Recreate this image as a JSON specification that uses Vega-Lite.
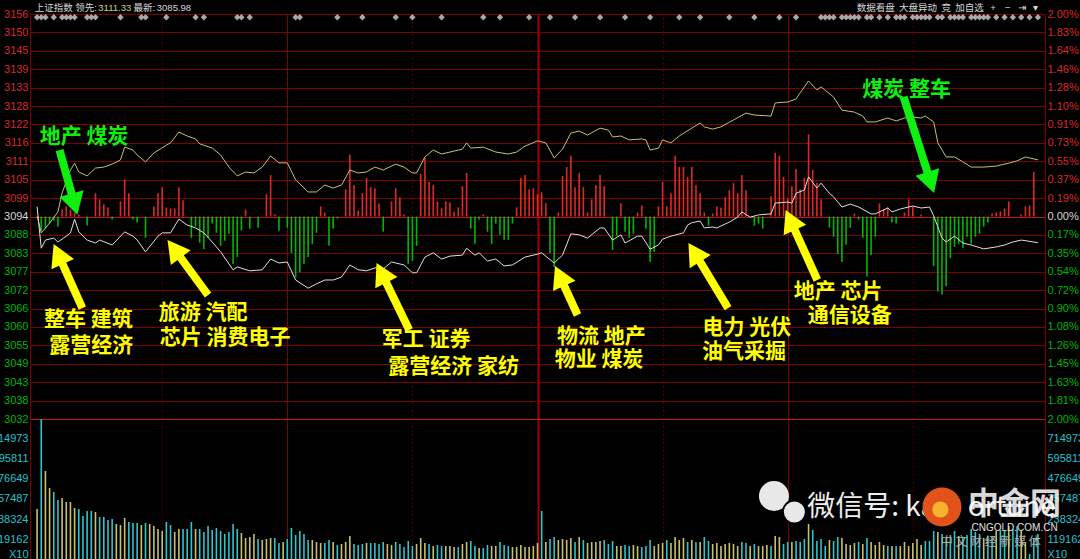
{
"$schema": "https://vega.github.io/schema/vega-lite/v6.json",
"width": 1015, "height": 545,
"autosize": {"type": "none"},
"padding": {"left": 30, "top": 14, "right": 35, "bottom": 0},
"background": "#000000",
"config": {
  "view": {"stroke": "#800000", "strokeWidth": 1},
  "axis": {"labelFont": "Liberation Sans, Noto Sans CJK SC", "labelFontSize": 11, "ticks": false, "domain": false, "title": null, "labelFlush": false, "labelOverlap": false}
},
"datasets": {
"sse": [{"t":0,"p":3097.0},{"t":1,"p":3084.3},{"t":2,"p":3086.8},{"t":4,"p":3087.4},{"t":5,"p":3086.2},{"t":7,"p":3088.0},{"t":8,"p":3089.0},{"t":9,"p":3093.2},{"t":10,"p":3089.3},{"t":12,"p":3086.8},{"t":14,"p":3085.9},{"t":15,"p":3086.8},{"t":18,"p":3085.3},{"t":21,"p":3089.3},{"t":23,"p":3088.0},{"t":24,"p":3086.8},{"t":26,"p":3083.2},{"t":29,"p":3088.0},{"t":30,"p":3089.0},{"t":32,"p":3089.0},{"t":34,"p":3093.2},{"t":36,"p":3091.4},{"t":38,"p":3090.5},{"t":40,"p":3089.0},{"t":42,"p":3086.2},{"t":44,"p":3083.2},{"t":47,"p":3077.7},{"t":48,"p":3078.6},{"t":51,"p":3077.4},{"t":54,"p":3077.7},{"t":56,"p":3081.0},{"t":58,"p":3079.8},{"t":60,"p":3080.1},{"t":62,"p":3074.6},{"t":65,"p":3072.1},{"t":67,"p":3073.4},{"t":69,"p":3074.6},{"t":71,"p":3074.6},{"t":73,"p":3075.5},{"t":75,"p":3079.2},{"t":77,"p":3077.7},{"t":79,"p":3077.4},{"t":81,"p":3078.3},{"t":83,"p":3078.0},{"t":85,"p":3080.1},{"t":88,"p":3079.2},{"t":90,"p":3076.8},{"t":91,"p":3076.8},{"t":93,"p":3081.6},{"t":95,"p":3082.9},{"t":97,"p":3081.0},{"t":99,"p":3081.9},{"t":102,"p":3082.2},{"t":103,"p":3084.3},{"t":105,"p":3082.2},{"t":106,"p":3082.9},{"t":108,"p":3080.4},{"t":110,"p":3081.0},{"t":112,"p":3078.9},{"t":114,"p":3079.2},{"t":117,"p":3081.6},{"t":120,"p":3082.5},{"t":121,"p":3082.9},{"t":124,"p":3079.8},{"t":126,"p":3082.2},{"t":128,"p":3088.7},{"t":130,"p":3088.4},{"t":132,"p":3087.4},{"t":135,"p":3090.5},{"t":136,"p":3090.5},{"t":138,"p":3086.8},{"t":140,"p":3088.4},{"t":141,"p":3085.9},{"t":144,"p":3088.0},{"t":145,"p":3088.0},{"t":147,"p":3084.0},{"t":149,"p":3085.3},{"t":150,"p":3087.1},{"t":152,"p":3088.0},{"t":155,"p":3089.0},{"t":156,"p":3091.4},{"t":157,"p":3092.1},{"t":159,"p":3092.6},{"t":160,"p":3090.5},{"t":162,"p":3090.8},{"t":163,"p":3090.5},{"t":166,"p":3092.3},{"t":168,"p":3093.8},{"t":169,"p":3095.4},{"t":171,"p":3093.8},{"t":173,"p":3094.5},{"t":176,"p":3094.8},{"t":177,"p":3098.1},{"t":180,"p":3098.4},{"t":181,"p":3098.1},{"t":182,"p":3101.1},{"t":184,"p":3102.1},{"t":185,"p":3106.1},{"t":187,"p":3102.7},{"t":188,"p":3104.2},{"t":190,"p":3101.1},{"t":191,"p":3100.0},{"t":193,"p":3096.9},{"t":195,"p":3097.8},{"t":197,"p":3096.9},{"t":200,"p":3094.8},{"t":201,"p":3094.8},{"t":204,"p":3096.6},{"t":205,"p":3095.4},{"t":207,"p":3096.3},{"t":210,"p":3097.2},{"t":212,"p":3096.6},{"t":214,"p":3096.9},{"t":215,"p":3094.2},{"t":217,"p":3087.4},{"t":218,"p":3086.2},{"t":220,"p":3088.0},{"t":222,"p":3085.9},{"t":224,"p":3085.3},{"t":227,"p":3084.1},{"t":230,"p":3084.7},{"t":232,"p":3085.3},{"t":234,"p":3086.2},{"t":236,"p":3086.8},{"t":240,"p":3086.0}],
"lead": [{"t":0,"p":3094.2},{"t":1,"p":3089.0},{"t":3,"p":3092.0},{"t":5,"p":3095.4},{"t":6,"p":3101.2},{"t":8,"p":3108.2},{"t":9,"p":3110.3},{"t":10,"p":3107.6},{"t":12,"p":3106.4},{"t":14,"p":3108.8},{"t":16,"p":3109.1},{"t":18,"p":3110.0},{"t":20,"p":3111.3},{"t":21,"p":3115.2},{"t":23,"p":3114.3},{"t":24,"p":3112.8},{"t":26,"p":3110.7},{"t":28,"p":3113.4},{"t":31,"p":3115.8},{"t":32,"p":3116.5},{"t":34,"p":3119.8},{"t":36,"p":3118.6},{"t":38,"p":3117.7},{"t":39,"p":3116.2},{"t":42,"p":3114.9},{"t":44,"p":3112.8},{"t":46,"p":3109.1},{"t":48,"p":3106.4},{"t":50,"p":3107.6},{"t":52,"p":3107.3},{"t":54,"p":3109.1},{"t":56,"p":3112.5},{"t":58,"p":3110.4},{"t":60,"p":3110.4},{"t":62,"p":3105.2},{"t":65,"p":3101.5},{"t":67,"p":3101.5},{"t":69,"p":3103.6},{"t":71,"p":3102.7},{"t":73,"p":3103.6},{"t":75,"p":3108.2},{"t":77,"p":3107.3},{"t":79,"p":3107.6},{"t":81,"p":3109.1},{"t":83,"p":3108.2},{"t":86,"p":3110.0},{"t":88,"p":3109.1},{"t":90,"p":3107.3},{"t":91,"p":3107.3},{"t":93,"p":3112.2},{"t":95,"p":3114.3},{"t":97,"p":3113.1},{"t":100,"p":3114.0},{"t":102,"p":3114.6},{"t":103,"p":3116.5},{"t":104,"p":3114.9},{"t":107,"p":3115.2},{"t":110,"p":3113.7},{"t":113,"p":3113.1},{"t":115,"p":3113.7},{"t":117,"p":3115.5},{"t":120,"p":3117.1},{"t":122,"p":3116.5},{"t":124,"p":3111.9},{"t":126,"p":3114.6},{"t":128,"p":3119.5},{"t":130,"p":3120.1},{"t":132,"p":3118.9},{"t":135,"p":3121.0},{"t":137,"p":3120.4},{"t":138,"p":3118.3},{"t":140,"p":3118.6},{"t":142,"p":3117.4},{"t":145,"p":3117.7},{"t":146,"p":3117.4},{"t":147,"p":3114.3},{"t":149,"p":3114.9},{"t":150,"p":3117.4},{"t":152,"p":3116.5},{"t":154,"p":3118.6},{"t":157,"p":3121.0},{"t":159,"p":3122.6},{"t":160,"p":3121.4},{"t":162,"p":3120.7},{"t":164,"p":3121.4},{"t":167,"p":3123.5},{"t":170,"p":3125.6},{"t":172,"p":3125.0},{"t":176,"p":3124.7},{"t":177,"p":3128.7},{"t":180,"p":3129.0},{"t":182,"p":3129.9},{"t":183,"p":3131.8},{"t":185,"p":3135.4},{"t":187,"p":3132.7},{"t":188,"p":3133.6},{"t":191,"p":3130.5},{"t":193,"p":3126.5},{"t":196,"p":3125.9},{"t":198,"p":3124.7},{"t":199,"p":3122.9},{"t":201,"p":3122.9},{"t":204,"p":3124.1},{"t":206,"p":3123.2},{"t":208,"p":3124.1},{"t":210,"p":3124.4},{"t":212,"p":3124.1},{"t":213,"p":3124.7},{"t":215,"p":3122.9},{"t":216,"p":3116.5},{"t":218,"p":3112.2},{"t":220,"p":3112.2},{"t":222,"p":3110.7},{"t":224,"p":3109.1},{"t":227,"p":3109.1},{"t":230,"p":3109.4},{"t":233,"p":3110.3},{"t":235,"p":3111.0},{"t":237,"p":3112.2},{"t":240,"p":3111.3}],
"bars": [
{"t":0,"rg":0,"v":297900,"dir":"up"},{"t":1,"rg":-0.14,"v":834120,"dir":"dn"},{"t":2,"rg":-0.12,"v":524300,"dir":"up"},{"t":3,"rg":-0.07,"v":423020,"dir":"up"},{"t":4,"rg":-0.04,"v":399190,"dir":"dn"},{"t":5,"rg":-0.10,"v":351520,"dir":"dn"},{"t":6,"rg":0.07,"v":363440,"dir":"up"},{"t":7,"rg":0.10,"v":339610,"dir":"up"},{"t":8,"rg":0.07,"v":339610,"dir":"up"},{"t":9,"rg":0.04,"v":303860,"dir":"up"},
{"t":10,"rg":0.02,"v":297900,"dir":"dn"},{"t":11,"rg":0,"v":256190,"dir":"dn"},{"t":12,"rg":-0.09,"v":285980,"dir":"dn"},{"t":13,"rg":0,"v":285980,"dir":"dn"},{"t":14,"rg":0.23,"v":280030,"dir":"up"},{"t":15,"rg":0.17,"v":250240,"dir":"dn"},{"t":16,"rg":0.12,"v":250240,"dir":"dn"},{"t":17,"rg":0.09,"v":232360,"dir":"dn"},{"t":18,"rg":-0.03,"v":238320,"dir":"dn"},{"t":19,"rg":0,"v":208530,"dir":"up"},
{"t":20,"rg":0.15,"v":202570,"dir":"up"},{"t":21,"rg":0.37,"v":244280,"dir":"up"},{"t":22,"rg":0.23,"v":220450,"dir":"dn"},{"t":23,"rg":-0.03,"v":214490,"dir":"dn"},{"t":24,"rg":-0.06,"v":214490,"dir":"dn"},{"t":25,"rg":0,"v":202570,"dir":"up"},{"t":26,"rg":-0.21,"v":214490,"dir":"dn"},{"t":27,"rg":0,"v":208530,"dir":"up"},{"t":28,"rg":0.10,"v":196610,"dir":"up"},{"t":29,"rg":0.23,"v":178740,"dir":"up"},
{"t":30,"rg":0.29,"v":166820,"dir":"up"},{"t":31,"rg":0.09,"v":220450,"dir":"dn"},{"t":32,"rg":0.08,"v":202570,"dir":"dn"},{"t":33,"rg":0.08,"v":160870,"dir":"up"},{"t":34,"rg":0.29,"v":178740,"dir":"up"},{"t":35,"rg":0.16,"v":178740,"dir":"dn"},{"t":36,"rg":0,"v":178740,"dir":"dn"},{"t":37,"rg":-0.21,"v":220450,"dir":"dn"},{"t":38,"rg":-0.10,"v":178740,"dir":"up"},{"t":39,"rg":-0.26,"v":178740,"dir":"dn"},
{"t":40,"rg":-0.32,"v":160870,"dir":"dn"},{"t":41,"rg":-0.21,"v":196610,"dir":"dn"},{"t":42,"rg":-0.07,"v":172780,"dir":"dn"},{"t":43,"rg":-0.16,"v":184700,"dir":"dn"},{"t":44,"rg":-0.29,"v":166820,"dir":"dn"},{"t":45,"rg":-0.24,"v":148950,"dir":"dn"},{"t":46,"rg":-0.17,"v":160870,"dir":"dn"},{"t":47,"rg":-0.47,"v":208530,"dir":"dn"},{"t":48,"rg":-0.40,"v":178740,"dir":"dn"},{"t":49,"rg":-0.14,"v":154910,"dir":"up"},
{"t":50,"rg":0.07,"v":125120,"dir":"up"},{"t":51,"rg":-0.12,"v":131080,"dir":"up"},{"t":52,"rg":0,"v":148950,"dir":"up"},{"t":53,"rg":-0.11,"v":119160,"dir":"dn"},{"t":54,"rg":0,"v":113200,"dir":"up"},{"t":55,"rg":0.22,"v":119160,"dir":"up"},{"t":56,"rg":0.41,"v":125120,"dir":"up"},{"t":57,"rg":0.02,"v":125120,"dir":"dn"},{"t":58,"rg":-0.14,"v":95330,"dir":"dn"},{"t":59,"rg":0,"v":101290,"dir":"up"},
{"t":60,"rg":-0.11,"v":119160,"dir":"dn"},{"t":61,"rg":-0.36,"v":184700,"dir":"dn"},{"t":62,"rg":-0.60,"v":142990,"dir":"dn"},{"t":63,"rg":-0.55,"v":166820,"dir":"dn"},{"t":64,"rg":-0.47,"v":148950,"dir":"dn"},{"t":65,"rg":-0.40,"v":113200,"dir":"dn"},{"t":66,"rg":-0.27,"v":113200,"dir":"up"},{"t":67,"rg":-0.16,"v":101290,"dir":"up"},{"t":68,"rg":0.10,"v":95330,"dir":"up"},{"t":69,"rg":0.04,"v":95330,"dir":"dn"},
{"t":70,"rg":-0.29,"v":113200,"dir":"dn"},{"t":71,"rg":-0.12,"v":101290,"dir":"up"},{"t":72,"rg":-0.02,"v":83410,"dir":"dn"},{"t":73,"rg":0,"v":89370,"dir":"up"},{"t":74,"rg":0.27,"v":101290,"dir":"up"},{"t":75,"rg":0.61,"v":137030,"dir":"up"},{"t":76,"rg":0.31,"v":89370,"dir":"dn"},{"t":77,"rg":0.06,"v":83410,"dir":"dn"},{"t":78,"rg":0.23,"v":89370,"dir":"dn"},{"t":79,"rg":0.38,"v":95330,"dir":"up"},
{"t":80,"rg":0.29,"v":95330,"dir":"dn"},{"t":81,"rg":0.28,"v":95330,"dir":"dn"},{"t":82,"rg":0.13,"v":89370,"dir":"dn"},{"t":83,"rg":-0.15,"v":101290,"dir":"dn"},{"t":84,"rg":0,"v":89370,"dir":"up"},{"t":85,"rg":0.15,"v":83410,"dir":"up"},{"t":86,"rg":0.28,"v":101290,"dir":"dn"},{"t":87,"rg":0.19,"v":89370,"dir":"dn"},{"t":88,"rg":0.02,"v":71500,"dir":"dn"},{"t":89,"rg":-0.47,"v":107240,"dir":"dn"},
{"t":90,"rg":-0.44,"v":77450,"dir":"dn"},{"t":91,"rg":-0.29,"v":89370,"dir":"up"},{"t":92,"rg":0.42,"v":125120,"dir":"up"},{"t":93,"rg":0.58,"v":95330,"dir":"up"},{"t":94,"rg":0.34,"v":89370,"dir":"dn"},{"t":95,"rg":0.31,"v":77450,"dir":"up"},{"t":96,"rg":0.15,"v":83410,"dir":"dn"},{"t":97,"rg":0.08,"v":77450,"dir":"dn"},{"t":98,"rg":0.15,"v":77450,"dir":"up"},{"t":99,"rg":0.14,"v":77450,"dir":"up"},
{"t":100,"rg":0.05,"v":71500,"dir":"up"},{"t":101,"rg":0.09,"v":71500,"dir":"dn"},{"t":102,"rg":0.30,"v":89370,"dir":"up"},{"t":103,"rg":0.43,"v":101290,"dir":"up"},{"t":104,"rg":-0.12,"v":107240,"dir":"dn"},{"t":105,"rg":-0.27,"v":77450,"dir":"dn"},{"t":106,"rg":-0.03,"v":65540,"dir":"up"},{"t":107,"rg":0.02,"v":65540,"dir":"dn"},{"t":108,"rg":-0.15,"v":83410,"dir":"dn"},{"t":109,"rg":-0.27,"v":77450,"dir":"up"},
{"t":110,"rg":-0.07,"v":77450,"dir":"up"},{"t":111,"rg":-0.18,"v":101290,"dir":"dn"},{"t":112,"rg":-0.23,"v":83410,"dir":"dn"},{"t":113,"rg":-0.23,"v":77450,"dir":"dn"},{"t":114,"rg":-0.07,"v":71500,"dir":"up"},{"t":115,"rg":0.09,"v":71500,"dir":"up"},{"t":116,"rg":0.38,"v":83410,"dir":"up"},{"t":117,"rg":0.41,"v":71500,"dir":"up"},{"t":118,"rg":0.27,"v":71500,"dir":"up"},{"t":119,"rg":0.28,"v":77450,"dir":"up"},
{"t":120,"rg":0.22,"v":95330,"dir":"up"},{"t":121,"rg":0.24,"v":285980,"dir":"dn"},{"t":122,"rg":0.13,"v":101290,"dir":"up"},{"t":123,"rg":-0.36,"v":119160,"dir":"dn"},{"t":124,"rg":-0.50,"v":131080,"dir":"dn"},{"t":125,"rg":0.04,"v":113200,"dir":"up"},{"t":126,"rg":0.40,"v":119160,"dir":"up"},{"t":127,"rg":0.49,"v":113200,"dir":"up"},{"t":128,"rg":0.60,"v":125120,"dir":"up"},{"t":129,"rg":0.29,"v":101290,"dir":"dn"},
{"t":130,"rg":0.43,"v":131080,"dir":"up"},{"t":131,"rg":0.29,"v":113200,"dir":"dn"},{"t":132,"rg":0.04,"v":95330,"dir":"up"},{"t":133,"rg":0.17,"v":101290,"dir":"up"},{"t":134,"rg":0.31,"v":101290,"dir":"up"},{"t":135,"rg":0.41,"v":107240,"dir":"up"},{"t":136,"rg":0.30,"v":113200,"dir":"dn"},{"t":137,"rg":0,"v":89370,"dir":"dn"},{"t":138,"rg":-0.33,"v":107240,"dir":"dn"},{"t":139,"rg":-0.19,"v":77450,"dir":"up"},
{"t":140,"rg":0.13,"v":77450,"dir":"up"},{"t":141,"rg":-0.15,"v":83410,"dir":"dn"},{"t":142,"rg":-0.21,"v":77450,"dir":"dn"},{"t":143,"rg":-0.17,"v":83410,"dir":"up"},{"t":144,"rg":0.04,"v":77450,"dir":"up"},{"t":145,"rg":0.11,"v":71500,"dir":"dn"},{"t":146,"rg":-0.12,"v":77450,"dir":"dn"},{"t":147,"rg":-0.45,"v":113200,"dir":"dn"},{"t":148,"rg":-0.35,"v":77450,"dir":"up"},{"t":149,"rg":0.10,"v":89370,"dir":"up"},
{"t":150,"rg":0.34,"v":95330,"dir":"up"},{"t":151,"rg":0.10,"v":113200,"dir":"dn"},{"t":152,"rg":0.23,"v":95330,"dir":"up"},{"t":153,"rg":0.60,"v":131080,"dir":"up"},{"t":154,"rg":0.49,"v":113200,"dir":"up"},{"t":155,"rg":0.49,"v":125120,"dir":"up"},{"t":156,"rg":0.39,"v":101290,"dir":"dn"},{"t":157,"rg":0.49,"v":113200,"dir":"up"},{"t":158,"rg":0.31,"v":101290,"dir":"dn"},{"t":159,"rg":0.23,"v":101290,"dir":"up"},
{"t":160,"rg":0.04,"v":131080,"dir":"dn"},{"t":161,"rg":-0.09,"v":107240,"dir":"dn"},{"t":162,"rg":0.03,"v":89370,"dir":"up"},{"t":163,"rg":0.10,"v":95330,"dir":"up"},{"t":164,"rg":0.09,"v":77450,"dir":"up"},{"t":165,"rg":0.19,"v":89370,"dir":"up"},{"t":166,"rg":0.26,"v":95330,"dir":"up"},{"t":167,"rg":0.33,"v":89370,"dir":"up"},{"t":168,"rg":0.23,"v":77450,"dir":"up"},{"t":169,"rg":0.41,"v":101290,"dir":"dn"},
{"t":170,"rg":0.26,"v":95330,"dir":"dn"},{"t":171,"rg":0,"v":77450,"dir":"up"},{"t":172,"rg":-0.09,"v":89370,"dir":"dn"},{"t":173,"rg":-0.07,"v":77450,"dir":"up"},{"t":174,"rg":-0.12,"v":77450,"dir":"up"},{"t":175,"rg":0,"v":83410,"dir":"up"},{"t":176,"rg":0.20,"v":77450,"dir":"dn"},{"t":177,"rg":0.63,"v":137030,"dir":"up"},{"t":178,"rg":0.60,"v":131080,"dir":"up"},{"t":179,"rg":0.39,"v":89370,"dir":"dn"},
{"t":180,"rg":0.18,"v":101290,"dir":"dn"},{"t":181,"rg":0.30,"v":101290,"dir":"up"},{"t":182,"rg":0.47,"v":107240,"dir":"dn"},{"t":183,"rg":0.27,"v":101290,"dir":"dn"},{"t":184,"rg":0.38,"v":119160,"dir":"dn"},{"t":185,"rg":0.81,"v":208530,"dir":"up"},{"t":186,"rg":0.46,"v":172780,"dir":"dn"},{"t":187,"rg":0.33,"v":107240,"dir":"dn"},{"t":188,"rg":0.17,"v":119160,"dir":"dn"},{"t":189,"rg":0,"v":77450,"dir":"dn"},
{"t":190,"rg":-0.11,"v":113200,"dir":"up"},{"t":191,"rg":-0.20,"v":107240,"dir":"dn"},{"t":192,"rg":-0.37,"v":131080,"dir":"dn"},{"t":193,"rg":-0.45,"v":125120,"dir":"up"},{"t":194,"rg":-0.28,"v":89370,"dir":"up"},{"t":195,"rg":-0.11,"v":83410,"dir":"up"},{"t":196,"rg":0.03,"v":95330,"dir":"up"},{"t":197,"rg":-0.03,"v":101290,"dir":"dn"},{"t":198,"rg":-0.21,"v":89370,"dir":"up"},{"t":199,"rg":-0.59,"v":125120,"dir":"dn"},
{"t":200,"rg":-0.38,"v":101290,"dir":"up"},{"t":201,"rg":-0.20,"v":83410,"dir":"up"},{"t":202,"rg":0.13,"v":101290,"dir":"up"},{"t":203,"rg":0.07,"v":83410,"dir":"up"},{"t":204,"rg":0.09,"v":77450,"dir":"dn"},{"t":205,"rg":-0.06,"v":77450,"dir":"up"},{"t":206,"rg":-0.07,"v":77450,"dir":"dn"},{"t":207,"rg":0,"v":77450,"dir":"up"},{"t":208,"rg":0.04,"v":101290,"dir":"up"},{"t":209,"rg":0.17,"v":77450,"dir":"up"},
{"t":210,"rg":0.10,"v":95330,"dir":"up"},{"t":211,"rg":0,"v":119160,"dir":"up"},{"t":212,"rg":0.02,"v":83410,"dir":"up"},{"t":213,"rg":0,"v":107240,"dir":"dn"},{"t":214,"rg":0,"v":107240,"dir":"dn"},{"t":215,"rg":-0.49,"v":166820,"dir":"dn"},{"t":216,"rg":-0.74,"v":160870,"dir":"up"},{"t":217,"rg":-0.77,"v":148950,"dir":"dn"},{"t":218,"rg":-0.69,"v":125120,"dir":"dn"},{"t":219,"rg":-0.41,"v":142990,"dir":"dn"},
{"t":220,"rg":-0.30,"v":166820,"dir":"dn"},{"t":221,"rg":-0.27,"v":137030,"dir":"up"},{"t":222,"rg":-0.31,"v":131080,"dir":"dn"},{"t":223,"rg":-0.20,"v":142990,"dir":"dn"},{"t":224,"rg":-0.27,"v":178740,"dir":"dn"},{"t":225,"rg":-0.20,"v":160870,"dir":"dn"},{"t":226,"rg":-0.17,"v":148950,"dir":"dn"},{"t":227,"rg":-0.10,"v":125120,"dir":"up"},{"t":228,"rg":-0.06,"v":137030,"dir":"dn"},{"t":229,"rg":0.03,"v":137030,"dir":"dn"},
{"t":230,"rg":0.04,"v":166820,"dir":"up"},{"t":231,"rg":0.05,"v":172780,"dir":"dn"},{"t":232,"rg":0.08,"v":166820,"dir":"dn"},{"t":233,"rg":0.15,"v":196610,"dir":"up"},{"t":234,"rg":0,"v":178740,"dir":"dn"},{"t":235,"rg":0,"v":196610,"dir":"dn"},{"t":236,"rg":0.02,"v":166820,"dir":"up"},{"t":237,"rg":0.10,"v":101290,"dir":"up"},{"t":238,"rg":0.11,"v":29790,"dir":"dn"},{"t":239,"rg":0.44,"v":119160,"dir":"dn"},
{"t":240,"rg":0,"v":148950,"dir":"dn"}],
"events": [{"t":0},{"t":1},{"t":2},{"t":4},{"t":6},{"t":7},{"t":8},{"t":9},{"t":12},{"t":13},{"t":14},{"t":20},{"t":25},{"t":26},{"t":31},{"t":38},{"t":40},{"t":48},{"t":49},{"t":51},{"t":62},{"t":63},{"t":72},{"t":78},{"t":86},{"t":90},{"t":97},{"t":107},{"t":111},{"t":118},{"t":123},{"t":129},{"t":135},{"t":141},{"t":147},{"t":154},{"t":159},{"t":166},{"t":172},{"t":178},{"t":182},{"t":188},{"t":189},{"t":190},{"t":191},{"t":193},{"t":194},{"t":195},{"t":196},{"t":197},{"t":199},{"t":200},{"t":202},{"t":204},{"t":206},{"t":207},{"t":208},{"t":210},{"t":211},{"t":212},{"t":213},{"t":214},{"t":216},{"t":217},{"t":219},{"t":220},{"t":221},{"t":222},{"t":224},{"t":225},{"t":226},{"t":227},{"t":228},{"t":230},{"t":232},{"t":234},{"t":236},{"t":238},{"t":240}],
"arrows": [{"t":5.39,"p":3114.3,"tb":8.53,"pb":3099.8,"t2":9.67,"p2":3094.5,"move":"down"},{"t":207.8,"p":3130.5,"tb":213.8,"pb":3106.4,"t2":215.1,"p2":3101.2,"move":"down"},{"t":10.85,"p":3066.0,"tb":5.72,"pb":3080.6,"t2":3.97,"p2":3085.6,"move":"up"},{"t":41.0,"p":3070.0,"tb":33.85,"pb":3082.4,"t2":31.28,"p2":3086.8,"move":"up"},{"t":89.24,"p":3059.3,"tb":83.3,"pb":3074.9,"t2":81.4,"p2":3079.8,"move":"up"},{"t":129.6,"p":3063.9,"tb":126.0,"pb":3073.9,"t2":124.2,"p2":3078.9,"move":"up"},{"t":165.7,"p":3066.0,"tb":158.5,"pb":3081.2,"t2":156.2,"p2":3085.9,"move":"up"},{"t":187.1,"p":3074.6,"tb":181.3,"pb":3091.0,"t2":179.5,"p2":3096.0,"move":"up"}],
"notes": [{"t":11.3,"p":3118.3,"text":"地产 煤炭","move":"down"},{"t":208.5,"p":3132.7,"text":"煤炭 整车","move":"down"},{"t":12.3,"p":3062.4,"text":"整车 建筑","move":"up"},{"t":13.0,"p":3054.4,"text":"露营经济","move":"up"},{"t":39.8,"p":3064.5,"text":"旅游 汽配","move":"up"},{"t":45.1,"p":3056.9,"text":"芯片 消费电子","move":"up"},{"t":93.3,"p":3056.3,"text":"军工 证券","move":"up"},{"t":99.9,"p":3048.0,"text":"露营经济 家纺","move":"up"},{"t":135.3,"p":3057.2,"text":"物流 地产","move":"up"},{"t":134.8,"p":3050.1,"text":"物业 煤炭","move":"up"},{"t":170.2,"p":3059.9,"text":"电力 光伏","move":"up"},{"t":169.5,"p":3052.6,"text":"油气采掘","move":"up"},{"t":192.1,"p":3070.9,"text":"地产 芯片","move":"up"},{"t":194.9,"p":3063.6,"text":"通信设备","move":"up"}]
},
"resolve": {"scale": {"y": "independent"}, "axis": {"y": "independent"}},
"layer": [
{
  "data": {"name": "events"},
  "mark": {"type": "point", "shape": "diamond", "filled": true, "size": 40, "color": "#a8a8a8", "opacity": 1},
  "encoding": {
    "x": {"field": "t", "type": "quantitative", "scale": {"domain": [-0.5, 240.5]},
      "axis": {"orient": "top", "grid": true, "labelPadding": 2, "labelFontSize": 9.5,
        "values": [3.9, 11.6, 18.5, 25.6, 32.7, 30, 60, 90, 120, 150, 180, 210, 201, 211.1, 217.9, 223.5, 229.1, 232.6, 236, 239.3],
        "labelExpr": "datum.value==3.9?'上证指数':datum.value==11.6?'领先:':datum.value==18.5?'3111.33':datum.value==25.6?'最新:':datum.value==32.7?'3085.98':datum.value==201?'数据看盘':datum.value==211.1?'大盘异动':datum.value==217.9?'竞':datum.value==223.5?'加自选':datum.value==229.1?'+':datum.value==232.6?'−':datum.value==236?'⇥':datum.value==239.3?'▾':''",
        "labelColor": {"condition": {"test": "datum.value==18.5", "value": "#d8d070"}, "value": "#d8d8d8"},
        "gridColor": {"condition": {"test": "datum.value==120", "value": "#a00000"}, "value": "#800000"},
        "gridWidth": {"condition": {"test": "datum.value==120", "value": 2}, "value": 1},
        "gridDash": {"condition": {"test": "datum.value%60==0", "value": []}, "value": [1, 3]},
        "gridOpacity": {"condition": {"test": "datum.value%30==0", "value": 1}, "value": 0}}},
    "y": {"datum": 0.994, "type": "quantitative", "scale": {"domain": [0, 1]}, "axis": null}
  }
},
{
  "encoding": {
    "x": {"field": "t", "type": "quantitative", "scale": {"domain": [-0.5, 240.5]}},
    "y": {"field": "v", "type": "quantitative", "scale": {"domain": [0, 834135], "range": [545, 405]},
      "axis": {"orient": "left", "labelPadding": 2, "values": [0, 119162, 238324, 357487, 476649, 595811, 714973],
        "labelExpr": "datum.value==0?'X10':format(datum.value,'d')",
        "labelColor": "#28c0cc",
        "labelBaseline": {"condition": {"test": "datum.value==0", "value": "bottom"}, "value": "middle"},
        "gridColor": "#800000",
        "gridOpacity": {"condition": {"test": "datum.value==0", "value": 0}, "value": 1}}}
  },
  "layer": [
    {"data": {"name": "bars"}, "mark": {"type": "bar", "width": 1.6},
     "encoding": {"color": {"condition": {"test": "datum.dir=='up'", "value": "#c8c070"}, "value": "#30c4cc"}}},
    {"data": {"values": [{"t": 176.7, "v": 375400}]}, "mark": {"type": "point", "filled": true, "size": 900, "color": "#e8e8e8", "opacity": 1}},
    {"data": {"values": [{"t": 181.6, "v": 280000}]}, "mark": {"type": "point", "filled": true, "size": 530, "color": "#e8e8e8", "opacity": 1, "stroke": "#000000", "strokeWidth": 2}},
    {"data": {"values": [{"t": 184.7, "v": 303900, "text": "微信号: ka"}]}, "mark": {"type": "text", "align": "left", "baseline": "middle", "fontSize": 28, "font": "Noto Sans CJK SC", "color": "#eeeeee"}, "encoding": {"text": {"field": "text"}}},
    {"data": {"values": [{"t": 223.2, "v": 303900, "text": "ortune"}]}, "mark": {"type": "text", "align": "left", "baseline": "middle", "fontSize": 28, "font": "Noto Sans CJK SC", "color": "#eeeeee"}, "encoding": {"text": {"field": "text"}}},
    {"data": {"values": [{"t": 217.0, "v": 309800}]}, "mark": {"type": "point", "filled": true, "size": 1520, "color": "#e2531c", "opacity": 1}},
    {"data": {"values": [{"t": 216.6, "v": 295000}]}, "mark": {"type": "point", "filled": true, "size": 260, "color": "#f6b42c", "opacity": 1}},
    {"data": {"values": [{"t": 234.4, "v": 321700, "text": "中金网"}]}, "mark": {"type": "text", "align": "center", "baseline": "middle", "fontSize": 31, "fontWeight": "bold", "font": "Noto Sans CJK SC", "color": "#ffffff", "opacity": 0.85}, "encoding": {"text": {"field": "text"}}},
    {"data": {"values": [{"t": 234.4, "v": 184700, "text": "CNGOLD.COM.CN"}]}, "mark": {"type": "text", "align": "center", "baseline": "middle", "fontSize": 10, "font": "Liberation Sans", "color": "#e0e0e0"}, "encoding": {"text": {"field": "text"}}},
    {"data": {"values": [{"t": 228.7, "v": 101300, "text": "中 文 财 经 新 媒 体"}]}, "mark": {"type": "text", "align": "center", "baseline": "middle", "fontSize": 12, "font": "Noto Sans CJK SC", "color": "#b0b0b0"}, "encoding": {"text": {"field": "text"}}}
  ]
},
{
  "data": {"name": "bars"},
  "mark": {"type": "bar", "width": 1.6},
  "encoding": {
    "x": {"field": "t", "type": "quantitative", "scale": {"domain": [-0.5, 240.5]}},
    "y": {"field": "rg", "type": "quantitative", "scale": {"domain": [-2, 2], "range": [405, 0]},
      "axis": {"orient": "right", "grid": false, "labelPadding": 2,
        "values": [-2, -1.8182, -1.6364, -1.4545, -1.2727, -1.0909, -0.9091, -0.7273, -0.5455, -0.3636, -0.1818, 0, 0.1818, 0.3636, 0.5455, 0.7273, 0.9091, 1.0909, 1.2727, 1.4545, 1.6364, 1.8182, 2],
        "labelExpr": "['2.00%','1.81%','1.63%','1.45%','1.26%','1.08%','0.90%','0.72%','0.54%','0.35%','0.17%','0.00%','0.19%','0.37%','0.55%','0.73%','0.91%','1.10%','1.28%','1.46%','1.64%','1.83%','2.00%'][round(datum.value*5.5)+11]",
        "labelColor": {"condition": [{"test": "datum.value>0.01", "value": "#d82828"}, {"test": "datum.value>-0.01", "value": "#d8d8d8"}], "value": "#00b400"}}},
    "y2": {"datum": 0},
    "color": {"condition": {"test": "datum.rg>0", "value": "#e02828"}, "value": "#00b800"}
  }
},
{
  "encoding": {
    "x": {"field": "t", "type": "quantitative", "scale": {"domain": [-0.5, 240.5]}},
    "y": {"field": "p", "type": "quantitative", "scale": {"domain": [3032.12, 3155.88], "range": [405, 0]},
      "axis": {"orient": "left", "grid": true, "labelPadding": 2,
        "values": [3032.12, 3037.75, 3043.37, 3049.0, 3054.62, 3060.25, 3065.87, 3071.5, 3077.12, 3082.75, 3088.37, 3094.0, 3099.63, 3105.25, 3110.88, 3116.5, 3122.13, 3127.75, 3133.38, 3139.0, 3144.63, 3150.25, 3155.88],
        "labelExpr": "['3032','3038','3043','3049','3055','3060','3066','3072','3077','3083','3088','3094','3099','3105','3111','3116','3122','3128','3133','3139','3145','3150','3156'][round((datum.value-3094)/5.6255)+11]",
        "labelColor": {"condition": [{"test": "datum.value>3094.5", "value": "#d82828"}, {"test": "datum.value>3093.5", "value": "#d8d8d8"}], "value": "#00b400"},
        "gridColor": {"condition": {"test": "abs(datum.value-3094)<0.5 || datum.value<3033", "value": "#c01818"}, "value": "#800000"}}}
  },
  "layer": [
    {"data": {"name": "lead"}, "mark": {"type": "line", "color": "#c8c070", "strokeWidth": 1}},
    {"data": {"name": "sse"}, "mark": {"type": "line", "color": "#e0e0e0", "strokeWidth": 1}},
    {"data": {"name": "arrows"}, "mark": {"type": "rule", "strokeWidth": 8},
     "encoding": {"x2": {"field": "tb"}, "y2": {"field": "pb"}, "color": {"condition": {"test": "datum.move=='up'", "value": "#ffff00"}, "value": "#10f010"}}},
    {"data": {"name": "arrows"}, "transform": [{"calculate": "atan2((datum.t2-datum.tb)*4.21,(datum.p2-datum.pb)/0.3056)*180/PI", "as": "ang"}],
     "mark": {"type": "point", "shape": "M0,0L-0.62,1.1L0.62,1.1Z", "filled": true, "size": 1600, "opacity": 1, "strokeWidth": 0},
     "encoding": {"x": {"field": "t2", "type": "quantitative"}, "y": {"field": "p2", "type": "quantitative"}, "angle": {"field": "ang", "type": "quantitative", "scale": null}, "color": {"condition": {"test": "datum.move=='up'", "value": "#ffff00"}, "value": "#10f010"}}},
    {"data": {"name": "notes"}, "mark": {"type": "text", "font": "Noto Sans CJK SC", "fontWeight": "bold", "fontSize": 21, "align": "center", "baseline": "middle"},
     "encoding": {"text": {"field": "text"}, "color": {"condition": {"test": "datum.move=='up'", "value": "#ffff00"}, "value": "#10f010"}}}
  ]
},
{
  "data": {"name": "bars"},
  "mark": {"type": "point", "opacity": 0},
  "encoding": {
    "x": {"field": "t", "type": "quantitative", "scale": {"domain": [-0.5, 240.5]}},
    "y": {"field": "v", "type": "quantitative", "scale": {"domain": [0, 834135], "range": [545, 405]},
      "axis": {"orient": "right", "grid": false, "labelPadding": 2, "values": [0, 119162, 238324, 357487, 476649, 595811, 714973],
        "labelExpr": "datum.value==0?'X10':format(datum.value,'d')",
        "labelColor": "#28c0cc",
        "labelBaseline": {"condition": {"test": "datum.value==0", "value": "bottom"}, "value": "middle"}}}
  }
}
]
}
